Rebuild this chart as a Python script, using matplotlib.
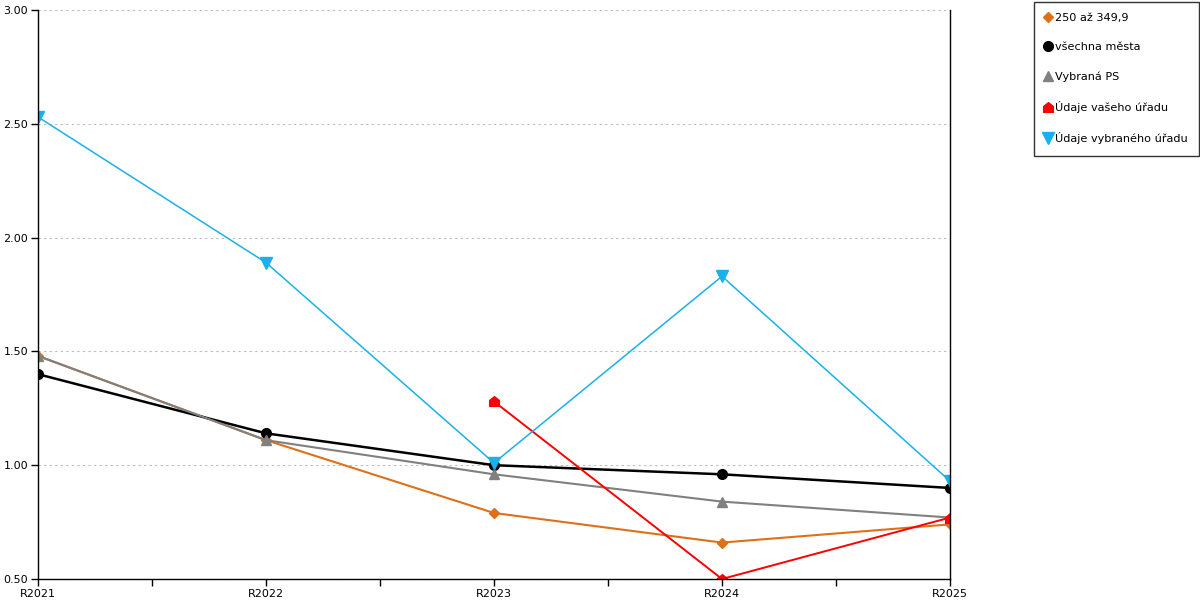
import matplotlib.pyplot as plt
import numpy as np
from matplotlib.path import Path
from matplotlib.ticker import FixedLocator, FormatStrFormatter

plt.rcParams.update({'font.family': 'DejaVu Sans', 'font.size': 8})

# data
years = ['R2021', 'R2022', 'R2023', 'R2024', 'R2025']
cat_250 = [1.48, 1.11, 0.79, 0.66, 0.74]
vsechna = [1.40, 1.14, 1.00, 0.96, 0.90]
vybrana_ps = [1.48, 1.11, 0.96, 0.84, 0.77]
vas_urad = [np.nan, np.nan, 1.28, 0.50, 0.77]
vybrany_urad = [2.53, 1.89, 1.01, 1.83, 0.93]

x = np.arange(len(years))

# "house" marker for the red series
house = Path([(-1, -1), (1, -1), (1, 0.2), (0, 1), (-1, 0.2), (-1, -1)],
             [Path.MOVETO, Path.LINETO, Path.LINETO, Path.LINETO, Path.LINETO, Path.CLOSEPOLY])

fig = plt.figure(figsize=(12, 6), dpi=100)
ax = fig.add_axes([38/1200, 1 - 579/600, (950 - 38)/1200, (579 - 10)/600])

ax.plot(x, cat_250, color='#e07018', marker='D', markersize=5.5, lw=1.5, label='250 až 349,9')
ax.plot(x, vsechna, color='black', marker='o', markersize=7, lw=1.8, label='všechna města')
ax.plot(x, vybrana_ps, color='#808080', marker='^', markersize=7.5, lw=1.5, label='Vybraná PS')
ax.plot(x, vas_urad, color='#ff0000', marker=house, markersize=7, lw=1.4, label='Údaje vašeho úřadu')
ax.plot(x, vybrany_urad, color='#1ab0ea', marker='v', markersize=8, lw=1.1, label='Údaje vybraného úřadu')

ax.set_xlim(0, len(years) - 1)
ax.set_ylim(0.5, 3.0)
ax.set_xticks(x)
ax.set_xticklabels(years)
ax.xaxis.set_minor_locator(FixedLocator(x[:-1] + 0.5))
ax.set_yticks(np.arange(0.5, 3.01, 0.5))
ax.yaxis.set_major_formatter(FormatStrFormatter('%.2f'))
ax.tick_params(axis='both', which='both', direction='out', length=5, width=1, pad=2, labelsize=8)

ax.grid(axis='y', linestyle=(0, (2, 3)), color='#bbbbbb', lw=0.8)
ax.set_axisbelow(True)
ax.spines['top'].set_visible(False)
for s in ['left', 'right', 'bottom']:
    ax.spines[s].set_linewidth(1)

handles, labels = ax.get_legend_handles_labels()
leg = fig.legend(handles, labels, loc='upper left', bbox_to_anchor=(1034/1200, 1 - 2/600),
                 borderaxespad=0, frameon=True, fancybox=False, edgecolor='black',
                 fontsize=8.1, handlelength=0.4, handletextpad=0.5, labelspacing=1.7,
                 borderpad=1.0, markerscale=1.0)
for h in leg.legend_handles:
    h.set_linestyle('none')
leg.get_frame().set_linewidth(1)

fig.savefig('out.png', dpi=100)
